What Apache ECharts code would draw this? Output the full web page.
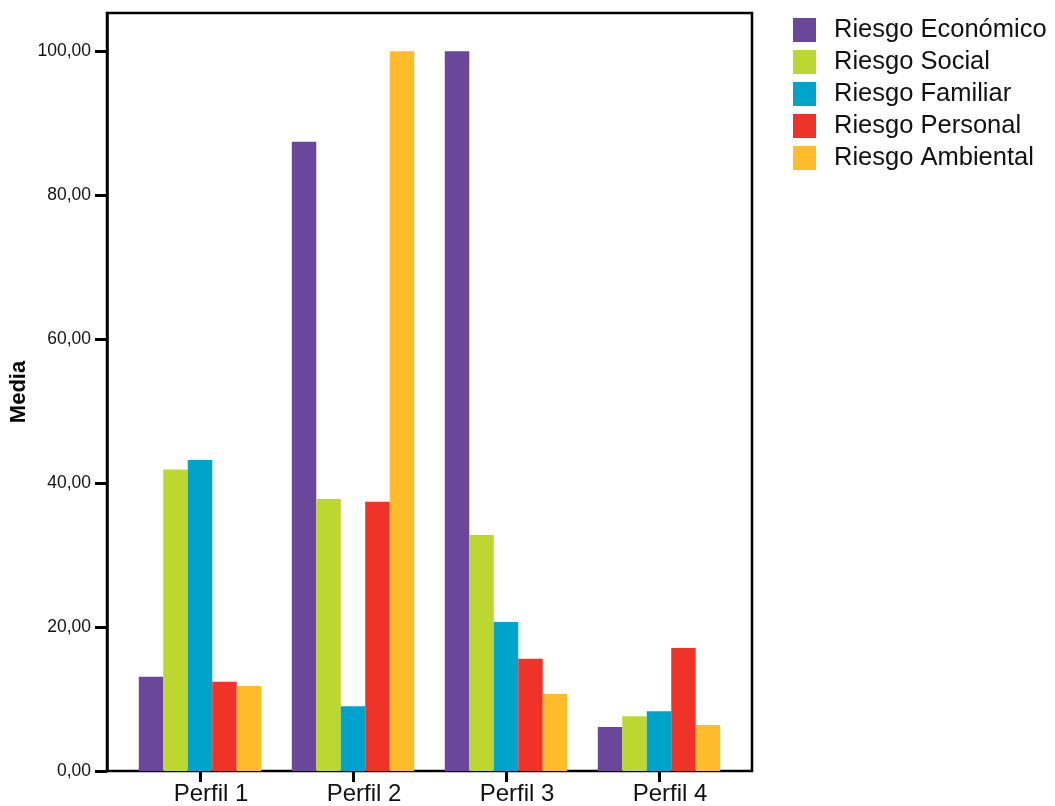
<!DOCTYPE html>
<html><head><meta charset="utf-8">
<script src="https://cdn.jsdelivr.net/npm/echarts@6/dist/echarts.min.js"></script>
<style>html,body{margin:0;padding:0;background:#fff}#c{width:1055px;height:806px}</style>
</head><body><div id="c"></div>
<script>
const categories = ['Perfil 1', 'Perfil 2', 'Perfil 3', 'Perfil 4'];
const seriesNames = ['Riesgo Económico', 'Riesgo Social', 'Riesgo Familiar', 'Riesgo Personal', 'Riesgo Ambiental'];
const economico = [13.1, 87.4, 100.0, 6.1];
const social = [41.9, 37.8, 32.8, 7.6];
const familiar = [43.2, 9.0, 20.7, 8.3];
const personal = [12.4, 37.4, 15.6, 17.1];
const ambiental = [11.8, 100.0, 10.7, 6.4];
const yTicks = [0, 20, 40, 60, 80, 100];
const colors = ['#6B479C', '#BDD731', '#00A3C9', '#EF3329', '#FEBB2A'];

const values = [economico, social, familiar, personal, ambiental];
const YMAX = 105.3;
const font = 'Liberation Sans, Arial, sans-serif';

const chart = echarts.init(document.getElementById('c'));
chart.setOption({
  animation: false,
  color: colors,
  legend: {
    orient: 'vertical', left: 788, top: 12,
    itemWidth: 23, itemHeight: 24, itemGap: 6,
    icon: 'rect',
    textStyle: { fontFamily: font, fontSize: 25.5, lineHeight: 24, color: '#111', padding: [0, 0, 0, 13] },
    data: seriesNames
  },
  grid: [
    { left: 107, top: 13, width: 645, height: 758, outerBoundsMode: 'none', containLabel: false,
      show: true, borderColor: '#000', borderWidth: 2.5, backgroundColor: 'transparent' },
    { left: 123.5, top: 13, width: 612, height: 758, outerBoundsMode: 'none', containLabel: false }
  ],
  xAxis: [
    { type: 'category', gridIndex: 0, data: categories, show: false },
    { type: 'category', gridIndex: 1, data: categories,
      axisLine: { show: false },
      axisTick: { show: true, alignWithLabel: true, length: 11, lineStyle: { color: '#000', width: 3 } },
      axisLabel: { fontFamily: font, fontSize: 24, color: '#111', margin: 11, padding: [0, 0, 0, 22] } }
  ],
  yAxis: [
    { type: 'value', gridIndex: 0, min: 0, max: YMAX,
      name: 'Media', nameLocation: 'middle', nameGap: 77, nameRotate: 90, nameMoveOverlap: false,
      nameTextStyle: { fontFamily: font, fontSize: 22, fontWeight: 'bold', color: '#000' },
      axisLine: { show: true, lineStyle: { color: '#000', width: 2.5 } },
      axisTick: { show: true, length: 12, lineStyle: { color: '#000', width: 3 }, customValues: yTicks },
      axisLabel: { fontFamily: font, fontSize: 17.5, color: '#111', margin: 16, customValues: yTicks,
        formatter: v => v.toFixed(2).replace('.', ',') },
      splitLine: { show: false } },
    { type: 'value', gridIndex: 1, min: 0, max: YMAX, show: false, splitLine: { show: false } }
  ],
  series: seriesNames.map((n, i) => ({
    name: n, type: 'bar', xAxisIndex: 1, yAxisIndex: 1,
    data: values[i], barGap: '0%', barCategoryGap: '20%',
    itemStyle: { color: colors[i] }
  }))
});
</script></body></html>
